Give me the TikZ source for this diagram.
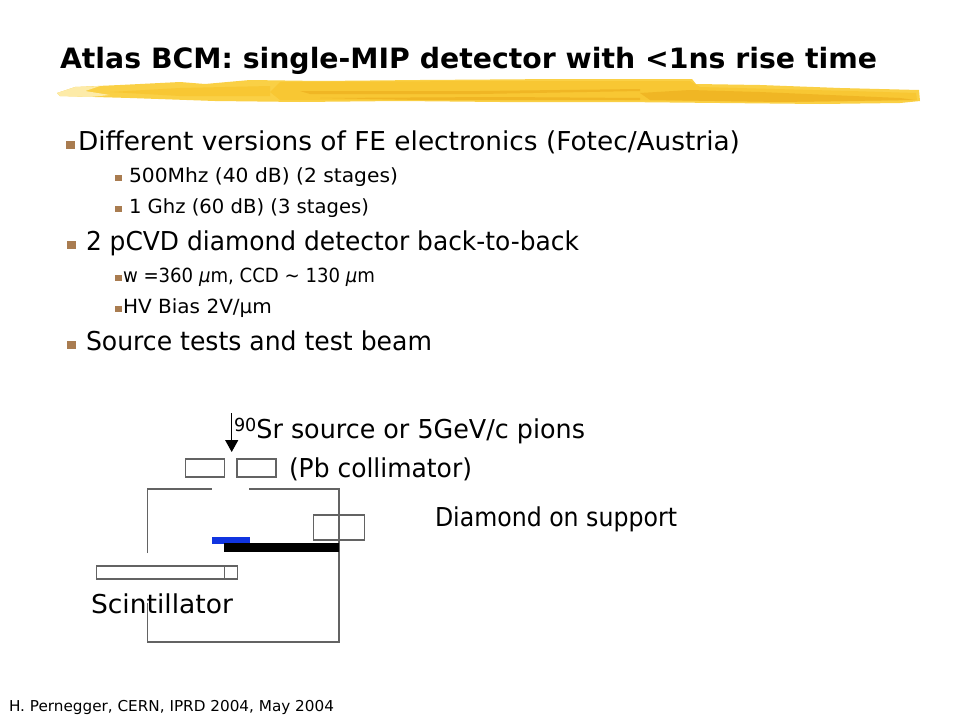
\documentclass[tikz,border=0pt]{standalone}
\usepackage{fontspec}
\usepackage{graphicx}
\setmainfont{DejaVu Sans}
\usetikzlibrary{arrows.meta}
\definecolor{bulletc}{HTML}{A97C50}
\definecolor{linec}{HTML}{636363}
\definecolor{stroke1}{HTML}{FAD045}
\definecolor{stroke2}{HTML}{F8C733}
\definecolor{stroke3}{HTML}{F0B624}
\definecolor{stroke0}{HTML}{FDEBA8}
\definecolor{detblue}{HTML}{1034E0}
\newcommand{\fitw}[2]{\resizebox{#1pt}{\height}{#2}}
\tikzset{
  x=1pt,y=-1pt,
  txt/.style={anchor=base west,inner sep=0pt,outer sep=0pt,text=black},
  titletxt/.style={txt,font=\fontsize{28}{28}\selectfont\bfseries},
  bigtxt/.style={txt,font=\fontsize{26}{26}\selectfont},
  subtxt/.style={txt,font=\fontsize{19.5}{20}\selectfont},
  foottxt/.style={txt,font=\fontsize{15}{15}\selectfont},
  bul/.style={fill=bulletc,draw=none},
  frameline/.style={draw=linec,line width=1.3pt},
  beam/.style={draw=black,line width=1.2pt,-{Triangle[length=12pt,width=13pt]}}
}
\begin{document}
\begin{tikzpicture}
\useasboundingbox (0,0) rectangle (960,720);
\fill[white] (0,0) rectangle (960,720);
% brush stroke
\fill[stroke1]
 (57,93) -- (75,87) -- (120,85) -- (180,82) -- (205,84) -- (250,80) -- (320,81) -- (420,80) -- (560,79) -- (692,79) -- (696,84) -- (760,85) -- (840,88) -- (919,90)
 -- (920,101) -- (900,103) -- (820,104) -- (720,103) -- (620,102) -- (500,102) -- (400,101) -- (300,102) -- (215,101) -- (130,98) -- (60,96) -- cycle;
\fill[stroke0] (57,93) -- (75,87) -- (100,86) -- (85,91) -- (110,95) -- (90,97) -- (60,96) -- cycle;
\fill[stroke2] (280,82) -- (480,81) -- (690,81) -- (700,87) -- (850,91) -- (916,93) -- (917,100) -- (800,102) -- (600,100) -- (420,100) -- (280,100) -- (270,92) -- cycle;
\fill[stroke2] (110,92) -- (180,88) -- (270,86) -- (270,96) -- (180,96) -- cycle;
\fill[stroke3] (640,93) -- (690,90) -- (760,92) -- (900,98) -- (915,100) -- (780,102) -- (650,100) -- cycle;
\fill[stroke3] (300,91) -- (480,91) -- (640,89) -- (640,91) -- (480,94) -- (310,94) -- cycle;
\fill[stroke3] (320,98) -- (500,97) -- (640,98) -- (640,100) -- (420,100) -- cycle;
% title
\node[titletxt] (title) at (60,68) {\fitw{817}{Atlas BCM: single-MIP detector with <1ns rise time}};
% bullets
\fill[bul] (66,141) rectangle (75,149);
\node[bigtxt] (l1) at (78,150) {\fitw{662}{Different versions of FE electronics (Fotec/Austria)}};
\fill[bul] (115,175) rectangle (122,181);
\node[subtxt] (l2) at (129,182) {\fitw{269}{500Mhz (40 dB) (2 stages)}};
\fill[bul] (115,206) rectangle (122,212);
\node[subtxt] (l3) at (129,213) {\fitw{240}{1 Ghz (60 dB) (3 stages)}};
\fill[bul] (67,241) rectangle (76,249);
\node[bigtxt] (l4) at (86,250) {\fitw{493}{2 pCVD diamond detector back-to-back}};
\fill[bul] (115,275) rectangle (122,281);
\node[subtxt] (l5) at (123,282) {\fitw{252}{w =360 {\itshape µ}m, CCD \symbol{126} 130 {\itshape µ}m}};
\fill[bul] (115,306) rectangle (122,312);
\node[subtxt] (l6) at (123,313) {\fitw{149}{HV Bias 2V/µm}};
\fill[bul] (67,341) rectangle (76,349);
\node[bigtxt] (l7) at (86,350) {\fitw{346}{Source tests and test beam}};
% diagram
\coordinate (frameA) at (147.5,553);
\coordinate (frameB) at (147.5,489);
\coordinate (frameC) at (212,489);
\coordinate (frameD) at (249,489);
\coordinate (frameE) at (339,489);
\coordinate (frameF) at (339,642);
\coordinate (frameG) at (147.5,642);
\coordinate (frameH) at (147.5,603);
\draw[frameline] (frameA) -- (frameB) -- (frameC);
\draw[frameline] (frameD) -- (frameE) -- (frameF) -- (frameG) -- (frameH);
\draw[frameline] (185.5,459) rectangle (224.5,477);
\draw[frameline] (237,459) rectangle (276,477);
\draw[frameline] (313.5,515) rectangle (364.5,540);
\fill[detblue] (211.5,536.5) rectangle (250,543.5);
\fill[black] (224,543) rectangle (339,552);
\draw[frameline,fill=white] (96.5,566) rectangle (237.5,579);
\draw[frameline] (224.5,566) -- (224.5,579);
\coordinate (beamtop) at (231.7,413);
\coordinate (beamtip) at (231.7,452);
\draw[beam] (beamtop) -- (beamtip);
\node[bigtxt] (src) at (234,438) {\fitw{351}{\raisebox{7pt}{\fontsize{18}{18}\selectfont 90}Sr source or 5GeV/c pions}};
\node[bigtxt] (pb) at (289,477) {\fitw{183}{(Pb collimator)}};
\node[bigtxt] (dia) at (435,526) {\fitw{242}{Diamond on support}};
\node[bigtxt] (sci) at (91,613) {\fitw{142}{Scintillator}};
\node[foottxt] (foot) at (9,711) {\fitw{325}{H. Pernegger, CERN, IPRD 2004, May 2004}};
\end{tikzpicture}
\end{document}
